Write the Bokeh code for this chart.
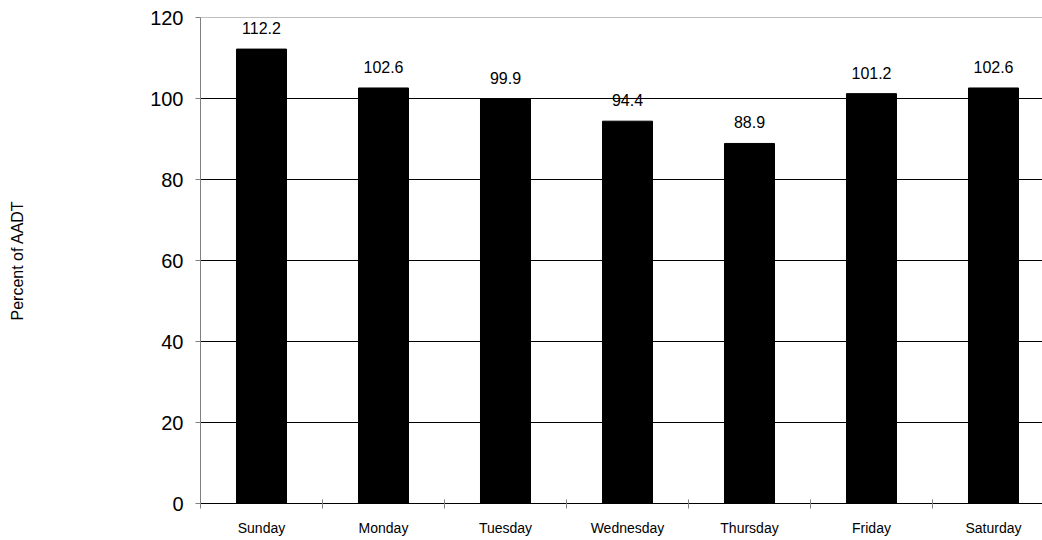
from bokeh.plotting import figure
from bokeh.models import ColumnDataSource, FixedTicker, Range1d, Span
from bokeh.core.properties import value
from bokeh.embed import file_html
from bokeh.resources import INLINE

days = ["Sunday", "Monday", "Tuesday", "Wednesday", "Thursday", "Friday", "Saturday"]
percent = [112.2, 102.6, 99.9, 94.4, 88.9, 101.2, 102.6]
y_ticks = [0, 20, 40, 60, 80, 100, 120]

xs = [i + 0.5 for i in range(len(days))]
labels = [f"{v:.1f}" for v in percent]
src = ColumnDataSource(dict(x=xs, top=percent, label=labels))

FONT = "Liberation Sans"

p = figure(width=1042, height=538, output_backend="svg", toolbar_location=None,
           x_range=Range1d(0, 842 / 122), y_range=Range1d(0, 120),
           min_border_left=200, min_border_right=0, min_border_top=17, min_border_bottom=35)

p.vbar(x="x", top="top", width=0.41, bottom=0, source=src, fill_color="black", line_color="black")
p.text(x="x", y="top", text="label", source=src, text_align="center", text_baseline="alphabetic",
       y_offset=-21, text_font=value(FONT), text_font_size="16px", text_color="black")

p.outline_line_color = None
p.xgrid.visible = False
p.ygrid.grid_line_color = "black"
p.ygrid.ticker = FixedTicker(ticks=[20, 40, 60, 80, 100])
p.add_layout(Span(location=120, dimension="width", line_color="#808080", line_width=1))

# x axis
p.xaxis.ticker = FixedTicker(ticks=xs, minor_ticks=list(range(len(days) + 1)))
p.xaxis.major_label_overrides = {x: d for x, d in zip(xs, days)}
p.xaxis.major_tick_out = 0
p.xaxis.major_tick_in = 0
p.xaxis.minor_tick_out = 5
p.xaxis.minor_tick_in = 4
p.xaxis.minor_tick_line_color = "#808080"
p.xaxis.axis_line_color = "black"
p.xaxis.major_label_standoff = 11
p.xaxis.major_label_text_font = FONT
p.xaxis.major_label_text_font_size = "14px"
p.xaxis.major_label_text_color = "black"

# y axis
p.yaxis.ticker = FixedTicker(ticks=y_ticks)
p.yaxis.axis_line_color = "#808080"
p.yaxis.major_tick_line_color = "#808080"
p.yaxis.major_tick_out = 5
p.yaxis.major_tick_in = 0
p.yaxis.minor_tick_line_color = None
p.yaxis.major_label_standoff = 12
p.yaxis.major_label_text_font = FONT
p.yaxis.major_label_text_font_size = "20px"
p.yaxis.major_label_text_color = "black"
p.yaxis.axis_label = "Percent of AADT"
p.yaxis.axis_label_text_font = FONT
p.yaxis.axis_label_text_font_style = "normal"
p.yaxis.axis_label_text_font_size = "16px"
p.yaxis.axis_label_text_color = "black"
p.yaxis.axis_label_standoff = 121

open("out.html", "w").write(file_html(p, INLINE))
